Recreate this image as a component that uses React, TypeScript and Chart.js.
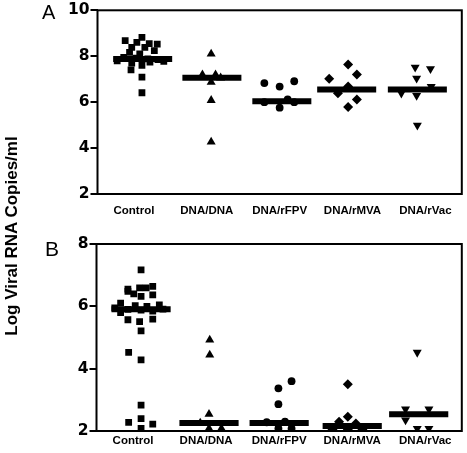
import { useEffect, useRef } from "react";
import { Chart, registerables } from "chart.js";

Chart.register(...registerables);

// ---------- data ----------
const categories = ["Control", "DNA/DNA", "DNA/rFPV", "DNA/rMVA", "DNA/rVac"];

const yTicksA = [2, 4, 6, 8, 10];
const yTicksB = [2, 4, 6, 8];

// Panel A values (log viral RNA copies/ml) and horizontal scatter (category units)
const controlA = [8.82, 8.68, 8.6, 8.55, 8.53, 8.39, 8.39, 8.24, 8.17, 8.1, 7.95, 7.92, 7.88, 7.85, 7.8, 7.78, 7.74, 7.7, 7.6, 7.41, 7.09, 6.41];
const controlAJitter = [0.11, -0.12, 0.04, 0.21, 0.32, -0.03, 0.15, 0.28, -0.06, 0.08, -0.14, 0.03, 0.19, 0.33, -0.23, 0.41, 0.22, -0.03, 0.11, -0.04, 0.11, 0.11];
const dnaDnaA = [8.1, 7.2, 7.2, 7.06, 6.87, 6.08, 4.27];
const dnaDnaAJitter = [0.06, -0.06, 0.12, 0.19, 0.06, 0.06, 0.06];
const rfpvA = [6.91, 6.83, 6.68, 6.12, 6.0, 6.0, 5.76];
const rfpvAJitter = [0.2, -0.21, 0, 0.11, -0.21, 0.2, 0];
const rmvaA = [7.64, 7.2, 7.02, 6.68, 6.39, 6.12, 5.79];
const rmvaAJitter = [-0.06, 0.06, -0.32, -0.06, -0.2, 0.06, -0.06];
const rvacA = [7.52, 7.45, 7.04, 6.68, 6.39, 6.29, 4.99];
const rvacAJitter = [-0.14, 0.07, -0.12, 0.08, -0.33, -0.12, -0.11];
const mediansA = [7.88, 7.06, 6.04, 6.55, 6.55];
const mediansAShift = [0.12, 0.07, 0.03, -0.08, -0.11];

// Panel B
const controlB = [7.17, 6.64, 6.59, 6.59, 6.55, 6.48, 6.4, 6.37, 6.32, 6.1, 6.05, 6.02, 6.0, 5.95, 5.91, 5.9, 5.88, 5.85, 5.8, 5.59, 5.57, 5.51, 5.21, 4.52, 4.28, 2.83, 2.4, 2.28, 2.22, 2.08];
const controlBJitter = [0.11, 0.27, 0.09, 0.18, -0.07, -0.07, 0.01, 0.27, 0.11, -0.17, 0.36, 0.03, 0.19, -0.25, 0.41, -0.07, 0.11, 0.27, -0.17, 0.27, -0.07, 0.09, 0.11, -0.06, 0.11, 0.11, 0.11, -0.06, 0.27, 0.11];
const dnaDnaB = [4.92, 4.44, 2.54, 2.26, 2.08, 2.08];
const dnaDnaBJitter = [0.05, 0.05, 0.04, -0.08, 0.04, 0.21];
const rfpvB = [3.6, 3.37, 2.86, 2.3, 2.28, 2.08, 2.08];
const rfpvBJitter = [0.17, -0.01, -0.01, 0.08, -0.17, -0.01, 0.17];
const rmvaB = [3.5, 2.46, 2.3, 2.24, 2.05, 2.05, 2.05];
const rmvaBJitter = [-0.06, -0.06, -0.18, 0.05, -0.27, -0.06, 0.14];
const rvacB = [4.52, 2.7, 2.7, 2.35, 2.08, 2.08];
const rvacBJitter = [-0.11, -0.27, 0.05, -0.27, -0.11, 0.05];
const mediansB = [5.91, 2.26, 2.26, 2.16, 2.54];
const mediansBShift = [0.11, 0.04, 0, 0, -0.09];

// ---------- helpers ----------
const BAR_HALF = 0.405;
const FONT = "'Liberation Sans', Arial, sans-serif";

function pts(cat: number, values: number[], jitter: number[]) {
  return values.map((v, i) => ({ x: cat + jitter[i], y: v }));
}

function medianLine(meds: number[], shifts: number[]) {
  const out: any[] = [];
  meds.forEach((m, i) => {
    out.push({ x: i + shifts[i] - BAR_HALF, y: m });
    out.push({ x: i + shifts[i] + BAR_HALF, y: m });
    out.push({ x: i + shifts[i] + 0.5, y: null });
  });
  return out;
}

const styles = [
  { pointStyle: "rect", radius: 4.8, rotation: 0 },
  { pointStyle: "triangle", radius: 5.2, rotation: 0 },
  { pointStyle: "circle", radius: 3.9, rotation: 0 },
  { pointStyle: "rectRot", radius: 5, rotation: 0 },
  { pointStyle: "triangle", radius: 5.2, rotation: 180 },
];

const framePlugin = {
  id: "frame",
  afterDatasetsDraw(chart: any) {
    const { ctx, chartArea } = chart;
    ctx.save();
    ctx.strokeStyle = "#000";
    ctx.lineWidth = 2;
    ctx.strokeRect(chartArea.left, chartArea.top, chartArea.right - chartArea.left, chartArea.bottom - chartArea.top);
    ctx.restore();
  },
};

function makeConfig(
  groups: { values: number[]; jitter: number[] }[],
  meds: number[],
  shifts: number[],
  yMax: number,
  yTicks: number[],
  pad: { top: number; right: number },
  yWidth: number,
  xHeight: number,
  xPad: number
): any {
  const datasets: any[] = groups.map((g, i) => ({
    type: "scatter",
    data: pts(i, g.values, g.jitter),
    pointStyle: styles[i].pointStyle,
    pointRadius: styles[i].radius,
    rotation: styles[i].rotation,
    backgroundColor: "#000",
    borderColor: "#000",
    borderWidth: 0,
  }));
  datasets.push({
    type: "line",
    data: medianLine(meds, shifts),
    borderColor: "#000",
    borderWidth: 6,
    borderCapStyle: "butt",
    pointRadius: 0,
    spanGaps: false,
    fill: false,
  });
  return {
    type: "scatter",
    data: { datasets },
    plugins: [framePlugin],
    options: {
      animation: false,
      responsive: false,
      devicePixelRatio: 1,
      layout: { padding: { top: pad.top, right: pad.right, left: 0, bottom: 0 } },
      plugins: { legend: { display: false }, tooltip: { enabled: false } },
      scales: {
        x: {
          type: "linear",
          min: -0.5,
          max: 4.5,
          afterBuildTicks: (s: any) => {
            s.ticks = categories.map((_, i) => ({ value: i }));
          },
          afterFit: (s: any) => {
            s.height = xHeight;
          },
          ticks: {
            callback: (v: any) => categories[v] ?? "",
            font: { family: FONT, size: 11.5, weight: "bold" },
            color: "#000",
            padding: xPad,
            maxRotation: 0,
            autoSkip: false,
          },
          grid: { display: false, drawTicks: false },
          border: { display: false },
        },
        y: {
          min: 2,
          max: yMax,
          afterBuildTicks: (s: any) => {
            s.ticks = yTicks.map((v) => ({ value: v }));
          },
          afterFit: (s: any) => {
            s.width = yWidth;
          },
          ticks: {
            font: { family: "'DejaVu Sans', sans-serif", size: 15.5, weight: "bold" },
            color: "#000",
            padding: 1,
          },
          grid: {
            display: true,
            drawOnChartArea: false,
            drawTicks: true,
            tickLength: 7,
            color: "#000",
            lineWidth: 2,
          },
          border: { display: false },
        },
      },
    },
  };
}

export default function App() {
  const refA = useRef<HTMLCanvasElement>(null);
  const refB = useRef<HTMLCanvasElement>(null);

  useEffect(() => {
    const chartA = new Chart(
      refA.current!,
      makeConfig(
        [
          { values: controlA, jitter: controlAJitter },
          { values: dnaDnaA, jitter: dnaDnaAJitter },
          { values: rfpvA, jitter: rfpvAJitter },
          { values: rmvaA, jitter: rmvaAJitter },
          { values: rvacA, jitter: rvacAJitter },
        ],
        mediansA,
        mediansAShift,
        10,
        yTicksA,
        { top: 9.5, right: 5 },
        97.5,
        28,
        10
      )
    );
    const chartB = new Chart(
      refB.current!,
      makeConfig(
        [
          { values: controlB, jitter: controlBJitter },
          { values: dnaDnaB, jitter: dnaDnaBJitter },
          { values: rfpvB, jitter: rfpvBJitter },
          { values: rmvaB, jitter: rmvaBJitter },
          { values: rvacB, jitter: rvacBJitter },
        ],
        mediansB,
        mediansBShift,
        8,
        yTicksB,
        { top: 22, right: 4 },
        96.5,
        22,
        3
      )
    );
    return () => {
      chartA.destroy();
      chartB.destroy();
    };
  }, []);

  return (
    <div style={{ position: "absolute", left: 0, top: 0, width: 467, height: 453, background: "#fff", overflow: "hidden" }}>
      <canvas ref={refA} width={467} height={222} style={{ position: "absolute", left: 0, top: 0, width: 467, height: 222 }} />
      <canvas ref={refB} width={467} height={231} style={{ position: "absolute", left: 0, top: 222, width: 467, height: 231 }} />
      <div
        style={{
          position: "absolute",
          left: 42,
          top: 2,
          fontFamily: FONT,
          fontSize: 20,
          lineHeight: "20px",
          color: "#000",
        }}
      >
        A
      </div>
      <div
        style={{
          position: "absolute",
          left: 45,
          top: 238,
          fontFamily: FONT,
          fontSize: 21,
          lineHeight: "22px",
          color: "#000",
        }}
      >
        B
      </div>
      <div
        style={{
          position: "absolute",
          left: 12 - 150,
          top: 236 - 10,
          width: 300,
          height: 20,
          lineHeight: "20px",
          textAlign: "center",
          transform: "rotate(-90deg)",
          fontFamily: FONT,
          fontWeight: "bold",
          fontSize: 17,
          color: "#000",
          whiteSpace: "nowrap",
        }}
      >
        Log Viral RNA Copies/ml
      </div>
    </div>
  );
}
